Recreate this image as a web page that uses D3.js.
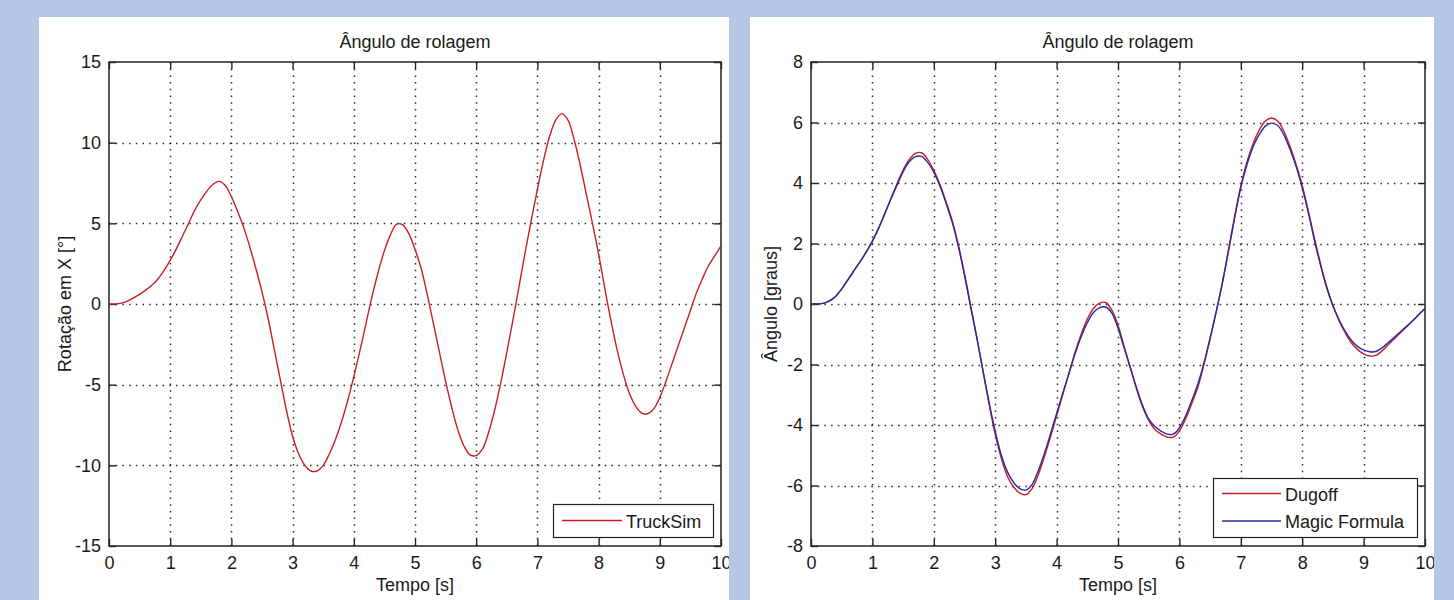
<!DOCTYPE html>
<html><head><meta charset="utf-8">
<script src="https://cdn.jsdelivr.net/npm/d3@7"></script>
<style>
body{margin:0;background:#b4c7e7;}
svg{display:block;}
text{font-family:"Liberation Sans",Arial,sans-serif;fill:#1a1a1a;}
</style>
</head><body>
<svg id="c" width="1454" height="600"></svg>
<script>
// ---------- data ----------
const time = [0,0.1,0.2,0.3,0.4,0.5,0.6,0.7,0.8,0.9,1,1.1,1.2,1.3,1.4,1.5,1.6,1.7,1.8,1.9,2,2.1,2.2,2.3,2.4,2.5,2.6,2.7,2.8,2.9,3,3.1,3.2,3.3,3.4,3.5,3.6,3.7,3.8,3.9,4,4.1,4.2,4.3,4.4,4.5,4.6,4.7,4.8,4.9,5,5.1,5.2,5.3,5.4,5.5,5.6,5.7,5.8,5.9,6,6.1,6.2,6.3,6.4,6.5,6.6,6.7,6.8,6.9,7,7.1,7.2,7.3,7.4,7.5,7.6,7.7,7.8,7.9,8,8.1,8.2,8.3,8.4,8.5,8.6,8.7,8.8,8.9,9,9.1,9.2,9.3,9.4,9.5,9.6,9.7,9.8,9.9,10];

const truckSim = [0,0,0.05,0.18,0.38,0.6,0.86,1.16,1.55,2.08,2.7,3.42,4.2,5.0,5.8,6.45,7.0,7.42,7.6,7.35,6.65,5.75,4.75,3.55,2.2,0.75,-0.9,-2.8,-4.7,-6.6,-8.2,-9.3,-10.0,-10.35,-10.35,-10.0,-9.3,-8.4,-7.3,-6.0,-4.5,-2.9,-1.2,0.5,2.0,3.3,4.3,4.95,4.9,4.35,3.4,2.2,0.6,-1.2,-3.0,-4.8,-6.4,-7.8,-8.8,-9.35,-9.4,-9.0,-8.0,-6.6,-4.9,-3.0,-1.0,1.1,3.2,5.2,7.1,8.9,10.4,11.4,11.8,11.4,10.2,8.6,6.8,5.0,3.1,1.0,-1.0,-2.8,-4.3,-5.5,-6.3,-6.75,-6.8,-6.5,-5.8,-4.8,-3.7,-2.6,-1.5,-0.4,0.7,1.6,2.4,3.0,3.6];

const dugoff = [0,0,0.02,0.1,0.25,0.5,0.8,1.1,1.4,1.72,2.08,2.5,2.98,3.48,3.97,4.43,4.78,4.98,5.0,4.78,4.42,3.95,3.38,2.75,1.95,1.0,-0.05,-1.1,-2.2,-3.3,-4.3,-5.1,-5.7,-6.05,-6.25,-6.3,-6.1,-5.65,-5.05,-4.4,-3.7,-3.0,-2.3,-1.6,-1.0,-0.5,-0.15,0.03,0.05,-0.2,-0.7,-1.4,-2.1,-2.8,-3.4,-3.85,-4.15,-4.3,-4.4,-4.4,-4.2,-3.8,-3.3,-2.75,-2.0,-1.15,-0.25,0.7,1.8,2.9,3.9,4.7,5.3,5.75,6.05,6.15,6.05,5.72,5.22,4.62,3.92,3.07,2.17,1.32,0.57,-0.05,-0.55,-0.95,-1.28,-1.5,-1.65,-1.72,-1.7,-1.55,-1.35,-1.15,-0.95,-0.75,-0.55,-0.35,-0.15];

const magicFormula = [0,0,0.02,0.1,0.25,0.5,0.8,1.1,1.4,1.72,2.08,2.5,2.98,3.46,3.93,4.37,4.7,4.87,4.88,4.68,4.36,3.9,3.33,2.7,1.9,0.95,-0.1,-1.1,-2.2,-3.25,-4.2,-5.0,-5.55,-5.9,-6.1,-6.15,-5.97,-5.52,-4.95,-4.3,-3.62,-2.95,-2.3,-1.65,-1.08,-0.62,-0.28,-0.12,-0.1,-0.3,-0.8,-1.45,-2.1,-2.75,-3.35,-3.8,-4.05,-4.2,-4.3,-4.3,-4.1,-3.7,-3.2,-2.65,-1.95,-1.12,-0.25,0.7,1.75,2.85,3.85,4.6,5.2,5.6,5.88,5.98,5.9,5.6,5.12,4.55,3.85,3.02,2.1,1.27,0.53,-0.05,-0.52,-0.9,-1.2,-1.4,-1.52,-1.58,-1.57,-1.45,-1.28,-1.1,-0.92,-0.74,-0.55,-0.35,-0.15];

const xTicks = [0,1,2,3,4,5,6,7,8,9,10];
const yTicksLeft = [-15,-10,-5,0,5,10,15];
const yTicksRight = [-8,-6,-4,-2,0,2,4,6,8];
const chartTitle = "Ângulo de rolagem";
const xLabel = "Tempo [s]";
const yLabelLeft = "Rotação em X [°]";
const yLabelRight = "Ângulo [graus]";
const seriesNames = ["TruckSim","Dugoff","Magic Formula"];

// ---------- drawing ----------
const svg = d3.select("#c");
const FONT = 18;
const RED = "#c81e28", BLUE = "#2a2a9e";
const fmt = d => String(d);

function panel(cfg){
  const clipId = "clip" + cfg.id;
  svg.append("clipPath").attr("id", clipId).append("rect")
    .attr("x", cfg.px).attr("y", cfg.py).attr("width", cfg.pw).attr("height", cfg.ph);
  const g = svg.append("g").attr("clip-path", `url(#${clipId})`);
  g.append("rect").attr("x", cfg.px).attr("y", cfg.py).attr("width", cfg.pw).attr("height", cfg.ph).attr("fill", "#fff");

  const x = d3.scaleLinear().domain([0,10]).range([cfg.l, cfg.r]);
  const y = d3.scaleLinear().domain(cfg.yDomain).range([cfg.b, cfg.t]);

  // grid
  const grid = g.append("g").attr("stroke", "#2a2a2a").attr("stroke-width", 1.5).attr("stroke-dasharray", "1.5,5.2");
  grid.selectAll(".gx").data(xTicks.slice(1, -1)).join("line")
    .attr("x1", d => Math.round(x(d)) + 0.5).attr("x2", d => Math.round(x(d)) + 0.5)
    .attr("y1", cfg.t).attr("y2", cfg.b);
  grid.selectAll(".gy").data(cfg.yTicks.slice(1, -1)).join("line")
    .attr("y1", d => Math.round(y(d)) + 0.5).attr("y2", d => Math.round(y(d)) + 0.5)
    .attr("x1", cfg.l).attr("x2", cfg.r);

  // axes using d3 axis generators (inward ticks)
  const tl = 7;
  const axB = d3.axisBottom(x).tickValues(xTicks).tickSize(-tl).tickFormat(fmt).tickPadding(10);
  const axT = d3.axisTop(x).tickValues(xTicks).tickSize(-tl).tickFormat("");
  const axL = d3.axisLeft(y).tickValues(cfg.yTicks).tickSize(-tl).tickFormat(fmt).tickPadding(8);
  const axR = d3.axisRight(y).tickValues(cfg.yTicks).tickSize(-tl).tickFormat("");
  const style = sel => {
    sel.select(".domain").remove();
    sel.selectAll("line").attr("stroke", "#222").attr("stroke-width", 1.4);
    sel.selectAll("text").attr("font-size", FONT).attr("font-family", '"Liberation Sans",Arial,sans-serif').attr("fill", "#1a1a1a");
  };
  g.append("g").attr("transform", `translate(0,${cfg.b})`).call(axB).call(style);
  g.append("g").attr("transform", `translate(0,${cfg.t})`).call(axT).call(style);
  g.append("g").attr("transform", `translate(${cfg.l},0)`).call(axL).call(style);
  g.append("g").attr("transform", `translate(${cfg.r},0)`).call(axR).call(style);

  // box
  g.append("rect").attr("x", cfg.l).attr("y", cfg.t).attr("width", cfg.r - cfg.l).attr("height", cfg.b - cfg.t)
    .attr("fill", "none").attr("stroke", "#222").attr("stroke-width", 1.5);

  // lines
  const line = d3.line().x((d, i) => x(time[i])).y(d => y(d)).curve(d3.curveCatmullRom.alpha(0.5));
  cfg.series.forEach(s => {
    g.append("path").datum(s.values).attr("d", line).attr("fill", "none")
      .attr("stroke", s.color).attr("stroke-width", 1.4).attr("stroke-linejoin", "round");
  });

  // texts
  const cx = (cfg.l + cfg.r) / 2;
  g.append("text").attr("x", cx).attr("y", 48).attr("text-anchor", "middle").attr("font-size", FONT).text(chartTitle);
  g.append("text").attr("x", cx).attr("y", 591).attr("text-anchor", "middle").attr("font-size", FONT).text(xLabel);
  g.append("text").attr("transform", `translate(${cfg.ylx},${(cfg.t + cfg.b) / 2}) rotate(-90)`)
    .attr("text-anchor", "middle").attr("font-size", FONT).text(cfg.ylabel);

  // legend
  const L = cfg.legend;
  g.append("rect").attr("x", L.x0 + 0.5).attr("y", L.y0 + 0.5).attr("width", L.x1 - L.x0).attr("height", L.y1 - L.y0)
    .attr("fill", "#fff").attr("stroke", "#222").attr("stroke-width", 1.2);
  cfg.series.forEach((s, i) => {
    const ly = L.rowY[i];
    g.append("line").attr("x1", L.lx0).attr("x2", L.lx1).attr("y1", ly).attr("y2", ly)
      .attr("stroke", s.color).attr("stroke-width", 1.4);
    g.append("text").attr("x", L.tx).attr("y", ly + 7).attr("font-size", FONT).text(s.name);
  });
}

panel({
  id: "L", px: 39, py: 17, pw: 690, ph: 583,
  l: 109, r: 721, t: 62, b: 546,
  yDomain: [-15, 15], yTicks: yTicksLeft, ylabel: yLabelLeft, ylx: 71,
  series: [{values: truckSim, color: RED, name: seriesNames[0]}],
  legend: {x0: 553, y0: 504, x1: 713, y1: 537, lx0: 562, lx1: 622, tx: 626, rowY: [520.5]}
});

panel({
  id: "R", px: 750, py: 17, pw: 684, ph: 583,
  l: 811, r: 1425, t: 62, b: 546,
  yDomain: [-8, 8], yTicks: yTicksRight, ylabel: yLabelRight, ylx: 777,
  series: [{values: dugoff, color: RED, name: seriesNames[1]}, {values: magicFormula, color: BLUE, name: seriesNames[2]}],
  legend: {x0: 1213, y0: 478, x1: 1417, y1: 537, lx0: 1222, lx1: 1281, tx: 1285, rowY: [493.5, 521]}
});
</script>
</body></html>
